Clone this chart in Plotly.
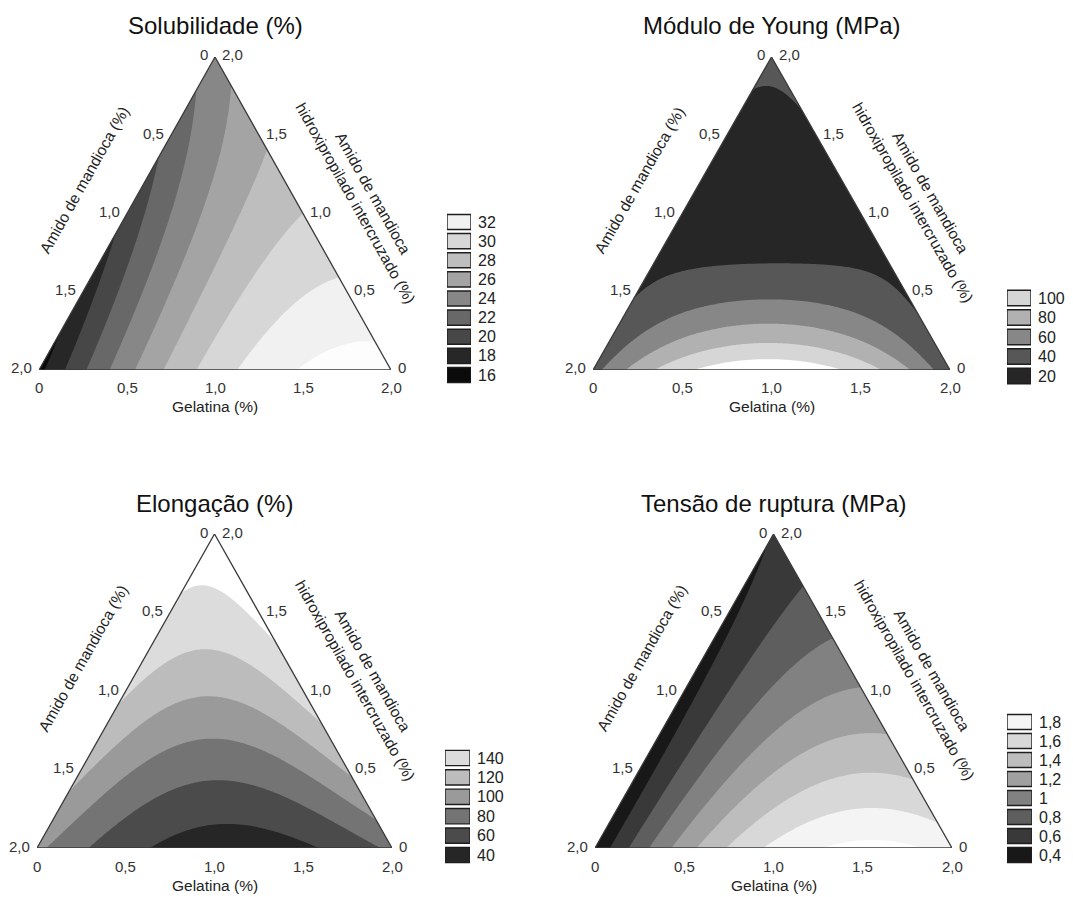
import numpy as np
import plotly.graph_objects as go

FIG_W, FIG_H = 1073, 897

# ------------------------------------------------------------------ data
# Mixture-model coefficients estimated from the contour maps.
# Order: [A, G, H, A*G, A*H, G*H, A*G*H]
#   A = Amido de mandioca, G = Gelatina, H = Amido hidroxipropilado intercruzado
sol_coef = [15.4, 32.9, 23.1, 19.3, -3.0, 0.0, 10.0]
young_coef = [32.0, 25.0, 24.7, 346.0, -58.3, -34.0, -930.0]
elong_coef = [85.0, 65.0, 148.0, -178.0, 25.0, 92.0, -400.0]
tens_coef = [0.23, 1.72, 0.41, 2.68, -0.1, -0.2, 0.0]

sol_levels = [16, 18, 20, 22, 24, 26, 28, 30, 32]
young_levels = [20, 40, 60, 80, 100]
elong_levels = [40, 60, 80, 100, 120, 140]
tens_levels = [0.4, 0.6, 0.8, 1.0, 1.2, 1.4, 1.6, 1.8]

sol_labels = ["16", "18", "20", "22", "24", "26", "28", "30", "32"]
young_labels = ["20", "40", "60", "80", "100"]
elong_labels = ["40", "60", "80", "100", "120", "140"]
tens_labels = ["0,4", "0,6", "0,8", "1", "1,2", "1,4", "1,6", "1,8"]

titles = ["Solubilidade (%)", "Módulo de Young (MPa)", "Elongação (%)", "Tensão de ruptura (MPa)"]
axis_ticks = [0.0, 0.5, 1.0, 1.5, 2.0]
axis_tick_labels = ["0", "0,5", "1,0", "1,5", "2,0"]
bottom_title = "Gelatina (%)"
left_title = "Amido de mandioca (%)"
right_title = "Amido de mandioca<br>hidroxipropilado intercruzado (%)"

# ------------------------------------------------------------------ styles
sol_colors = ["#0b0b0b", "#272727", "#474747", "#686868", "#878787", "#a4a4a4",
              "#bebebe", "#d7d7d7", "#f1f1f1", "#fdfdfd"]
young_colors = ["#262626", "#575757", "#878787", "#b1b1b1", "#d6d6d6", "#ffffff"]
elong_colors = ["#262626", "#4b4b4b", "#747474", "#9a9a9a", "#bcbcbc", "#dcdcdc", "#ffffff"]
tens_colors = ["#181818", "#393939", "#5e5e5e", "#818181", "#a0a0a0", "#bdbdbd",
               "#d8d8d8", "#f4f4f4", "#fefefe"]

# panel geometry in pixels: triangle x-extent, triangle y-extent (top, bottom)
panels = [
    dict(coef=sol_coef, levels=sol_levels, labels=sol_labels, colors=sol_colors,
         tri_x=(39, 391), tri_y=(57, 370), leg_x=(447, 471), leg_y=(222, 375)),
    dict(coef=young_coef, levels=young_levels, labels=young_labels, colors=young_colors,
         tri_x=(593, 950), tri_y=(57, 370), leg_x=(1007, 1031), leg_y=(298, 376)),
    dict(coef=elong_coef, levels=elong_levels, labels=elong_labels, colors=elong_colors,
         tri_x=(37, 392), tri_y=(534, 848), leg_x=(445, 470), leg_y=(758, 855)),
    dict(coef=tens_coef, levels=tens_levels, labels=tens_labels, colors=tens_colors,
         tri_x=(595, 952), tri_y=(534, 848), leg_x=(1007, 1032), leg_y=(722, 855)),
]

FONT = "Liberation Sans, Arial, sans-serif"
TICK_FONT = dict(family=FONT, size=15, color="#333333")
AX_FONT = dict(family=FONT, size=15.5, color="#222222")
TITLE_FONT = dict(family=FONT, size=24, color="#111111")

# grid in plot coordinates: x = G2 + H2/2, y = H2 (components in 0..2)
N = 241
gx = np.linspace(0, 2, N)
gy = np.linspace(0, 2, N)
X, Y = np.meshgrid(gx, gy)
Hf = Y / 2.0
Gf = X / 2.0 - Y / 4.0
Af = 1.0 - Gf - Hf


def model(c):
    return (c[0] * Af + c[1] * Gf + c[2] * Hf + c[3] * Af * Gf + c[4] * Af * Hf
            + c[5] * Gf * Hf + c[6] * Af * Gf * Hf)


def px2x(p):
    return p / FIG_W


def px2y(p):
    return 1 - p / FIG_H


fig = go.Figure()
layout = dict(width=FIG_W, height=FIG_H, margin=dict(l=0, r=0, t=0, b=0),
              paper_bgcolor="white", plot_bgcolor="white", showlegend=False,
              bargap=0.21, autosize=False)
annotations = []
shapes = []

for i, p in enumerate(panels):
    k = i + 1
    xa = "x" if k == 1 else f"x{k}"
    ya = "y" if k == 1 else f"y{k}"
    lv = p["levels"]
    nc = len(lv)
    step = lv[1] - lv[0]
    cscale = [[j / nc, col] for j, col in enumerate(p["colors"])]
    fig.add_trace(go.Contour(
        x=gx, y=gy, z=model(p["coef"]), xaxis=xa, yaxis=ya,
        autocontour=False,
        contours=dict(start=lv[0], end=lv[-1], size=step, coloring="fill", showlines=False),
        colorscale=cscale, showscale=False, line=dict(width=0), hoverinfo="skip"))

    x0, x1 = p["tri_x"]
    yt, yb = p["tri_y"]
    axkey = "xaxis" if k == 1 else f"xaxis{k}"
    aykey = "yaxis" if k == 1 else f"yaxis{k}"
    layout[axkey] = dict(domain=[px2x(x0), px2x(x1)], range=[0, 2], visible=False,
                         anchor=ya, fixedrange=True)
    layout[aykey] = dict(domain=[px2y(yb), px2y(yt)], range=[0, 2], visible=False,
                         anchor=xa, fixedrange=True)

    # masks outside triangle + outline
    for path in ["M 0,0 L 1,2 L -0.1,2.1 L -0.1,0 Z", "M 2,0 L 1,2 L 2.1,2.1 L 2.1,0 Z"]:
        shapes.append(dict(type="path", path=path, xref=xa, yref=ya, fillcolor="white",
                           line=dict(width=0), layer="above"))
    shapes.append(dict(type="path", path="M 0,0 L 2,0 L 1,2 Z", xref=xa, yref=ya,
                       line=dict(color="#3a3a3a", width=1.3), layer="above"))

    # tick labels
    for v, lab in zip(axis_ticks, axis_tick_labels):
        annotations.append(dict(x=v, y=0, xref=xa, yref=ya, text=lab, showarrow=False,
                                font=TICK_FONT, xanchor="center", yanchor="middle", yshift=-18))
        h2 = 2 - v
        annotations.append(dict(x=h2 / 2, y=h2, xref=xa, yref=ya, text=lab, showarrow=False,
                                font=TICK_FONT, xanchor="right", yanchor="middle",
                                xshift=-5, yshift=2))
        annotations.append(dict(x=2 - v / 2, y=v, xref=xa, yref=ya, text=lab, showarrow=False,
                                font=TICK_FONT, xanchor="left", yanchor="middle",
                                xshift=5, yshift=2))
    ang = float(np.degrees(np.arctan2(yb - yt, (x1 - x0) / 2)))
    annotations.append(dict(x=1, y=0, xref=xa, yref=ya, text=bottom_title, showarrow=False,
                            font=AX_FONT, yshift=-37, xanchor="center", yanchor="middle"))
    annotations.append(dict(x=0.5, y=1, xref=xa, yref=ya, text=left_title, showarrow=False,
                            font=AX_FONT, textangle=-ang, xshift=-43, yshift=33,
                            xanchor="center", yanchor="middle"))
    annotations.append(dict(x=1.5, y=1, xref=xa, yref=ya, text=right_title, showarrow=False,
                            font=AX_FONT, textangle=ang, xshift=61, yshift=16,
                            xanchor="center", yanchor="middle", align="center"))
    annotations.append(dict(x=1, y=2, xref=xa, yref=ya, text=titles[i], showarrow=False,
                            font=TITLE_FONT, yshift=31, xanchor="center", yanchor="middle"))

    # legend as bars on a small axis pair
    lk = k + 4
    lxa, lya = f"x{lk}", f"y{lk}"
    n = len(p["labels"])
    fig.add_trace(go.Bar(
        y=list(range(n)), x=[1] * n, base=0, orientation="h", xaxis=lxa, yaxis=lya,
        marker=dict(color=p["colors"][:n], line=dict(color="#1e1e1e", width=1.4)),
        hoverinfo="skip"))
    lx0, lx1 = p["leg_x"]
    ly_top, ly_bot = p["leg_y"]
    sp = (ly_bot - ly_top) / (n - 1)
    layout[f"xaxis{lk}"] = dict(domain=[px2x(lx0), px2x(lx1)], range=[0, 1], visible=False,
                                anchor=lya, fixedrange=True)
    layout[f"yaxis{lk}"] = dict(domain=[px2y(ly_bot + sp / 2), px2y(ly_top - sp / 2)],
                                range=[-0.5, n - 0.5], anchor=lxa, side="right",
                                tickvals=list(range(n)), ticktext=p["labels"],
                                showgrid=False, zeroline=False, showline=False, ticks="",
                                tickfont=dict(family=FONT, size=16, color="#222222"),
                                ticklabelstandoff=6, fixedrange=True)

layout["annotations"] = annotations
layout["shapes"] = shapes
fig.update_layout(**layout)
fig.write_html("out.html")
